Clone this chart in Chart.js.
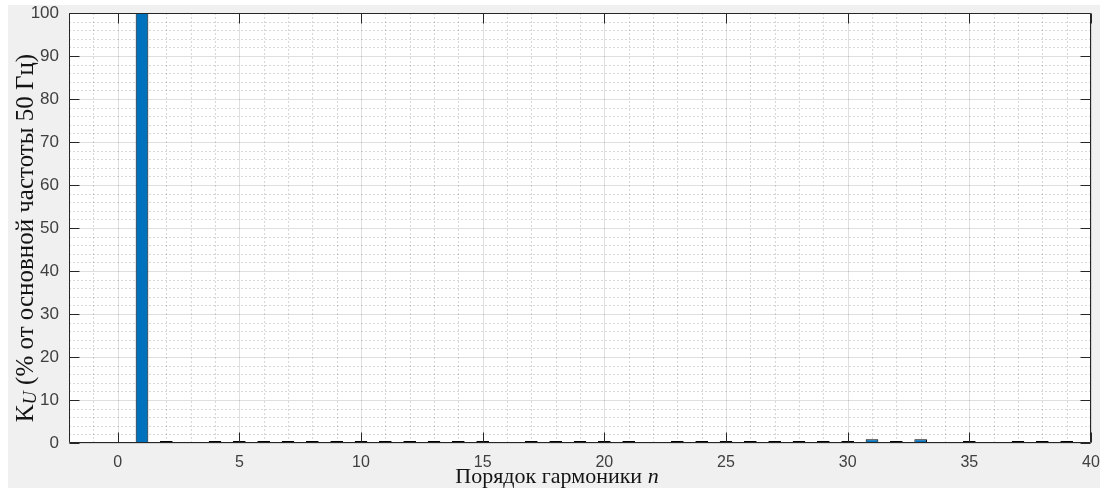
<!DOCTYPE html>
<html>
<head>
<meta charset="utf-8">
<script src="https://cdn.jsdelivr.net/npm/chart.js@4.4.1/dist/chart.umd.min.js"></script>
<style>
  html, body { margin: 0; padding: 0; background: #fff; overflow: hidden; }
  #wrap { width: 1105px; height: 488px; }
</style>
</head>
<body>
<div id="wrap"><canvas id="c" width="1105" height="488"></canvas></div>
<script>
// harmonic order n and Ku (% of the 50 Hz fundamental); null = no bar drawn
const harmonics = [1, 2, 3, 4, 5, 6, 7, 8, 9, 10,
                   11, 12, 13, 14, 15, 16, 17, 18, 19, 20,
                   21, 22, 23, 24, 25, 26, 27, 28, 29, 30,
                   31, 32, 33, 34, 35, 36, 37, 38, 39, 40];
const ku = [100, 0.45, null, 0.45, 0.45, 0.45, 0.45, 0.45, 0.45, 0.45,
            0.45, 0.45, 0.45, 0.45, 0.45, null, 0.45, 0.45, 0.45, 0.45,
            0.45, null, 0.45, 0.45, 0.45, 0.45, 0.45, 0.45, 0.45, 0.45,
            0.9, 0.45, 0.9, null, 0.45, null, 0.45, 0.45, 0.45, null];

const xTicks = [0, 5, 10, 15, 20, 25, 30, 35, 40];
const yTicks = [0, 10, 20, 30, 40, 50, 60, 70, 80, 90, 100];
const xRange = [-2, 40];
const yRange = [0, 100];

const xTitle = [['Порядок гармоники ', ''], ['n', 'italic']];
const yTitle = [['K', ''], ['U', 'italic sub'], [' (% от основной частоты 50 Гц)', '']];

const AXIS = '#262626';
const sans = '"Liberation Sans", Arial, Helvetica, sans-serif';
const serif = '"Liberation Serif", "Times New Roman", serif';

// gray figure, white axes, MATLAB-like major + dotted minor grid
const matlabAxes = {
  id: 'matlabAxes',
  beforeDraw(chart) {
    const { ctx, chartArea: a } = chart;
    const x = chart.scales.x, y = chart.scales.y;
    ctx.save();
    ctx.fillStyle = '#ffffff';
    ctx.fillRect(0, 0, chart.width, chart.height);
    ctx.fillStyle = '#f0f0f0';
    ctx.fillRect(8, 5, 1092, 483);
    ctx.fillStyle = '#ffffff';
    ctx.fillRect(a.left, a.top, a.right - a.left, a.bottom - a.top);

    ctx.lineWidth = 1;
    // minor
    ctx.strokeStyle = 'rgba(38,38,38,0.18)';
    ctx.setLineDash([2, 2]);
    ctx.beginPath();
    for (let v = xRange[0]; v <= xRange[1]; v += 1) {
      if (v % 5 === 0) continue;
      const px = Math.round(x.getPixelForValue(v)) + 0.5;
      ctx.moveTo(px, a.top); ctx.lineTo(px, a.bottom);
    }
    for (let v = yRange[0]; v <= yRange[1]; v += 2) {
      if (v % 10 === 0) continue;
      const py = Math.round(y.getPixelForValue(v)) + 0.5;
      ctx.moveTo(a.left, py); ctx.lineTo(a.right, py);
    }
    ctx.stroke();
    // major
    ctx.setLineDash([]);
    ctx.strokeStyle = 'rgba(38,38,38,0.15)';
    ctx.beginPath();
    xTicks.forEach(v => {
      const px = Math.round(x.getPixelForValue(v)) + 0.5;
      ctx.moveTo(px, a.top); ctx.lineTo(px, a.bottom);
    });
    yTicks.forEach(v => {
      const py = Math.round(y.getPixelForValue(v)) + 0.5;
      ctx.moveTo(a.left, py); ctx.lineTo(a.right, py);
    });
    ctx.stroke();
    ctx.restore();
  },
  afterDatasetsDraw(chart) {
    const { ctx, chartArea: a } = chart;
    const x = chart.scales.x, y = chart.scales.y;
    const L = Math.round(a.left) + 0.5, R = Math.round(a.right) - 0.5;
    const T = Math.round(a.top) + 0.5, B = Math.round(a.bottom) - 0.5;
    const len = 10;
    ctx.save();
    ctx.strokeStyle = AXIS;
    ctx.lineWidth = 1;
    ctx.beginPath();
    ctx.rect(L, T, R - L, B - T);
    xTicks.forEach(v => {
      const px = Math.round(x.getPixelForValue(v)) + 0.5;
      ctx.moveTo(px, B); ctx.lineTo(px, B - len);
      ctx.moveTo(px, T); ctx.lineTo(px, T + len);
    });
    yTicks.forEach(v => {
      const py = Math.round(y.getPixelForValue(v)) + 0.5;
      ctx.moveTo(L, py); ctx.lineTo(L + len, py);
      ctx.moveTo(R, py); ctx.lineTo(R - len, py);
    });
    ctx.stroke();
    ctx.restore();
  },
  afterDraw(chart) {
    const { ctx } = chart;
    const fontOf = (style, size) => (style.includes('italic') ? 'italic ' : '') +
      (style.includes('sub') ? Math.round(size * 0.72) : size) + 'px ' + serif;
    const widthOf = (parts, size) => parts.reduce((w, [t, s]) => {
      ctx.font = fontOf(s, size); return w + ctx.measureText(t).width;
    }, 0);
    const drawParts = (parts, size) => {
      let cx = -widthOf(parts, size) / 2;
      parts.forEach(([t, s]) => {
        ctx.font = fontOf(s, size);
        ctx.fillText(t, cx, s.includes('sub') ? 3 : 0);
        cx += ctx.measureText(t).width;
      });
    };
    ctx.save();
    ctx.fillStyle = '#141414';
    ctx.textBaseline = 'alphabetic';
    ctx.textAlign = 'left';
    // x title
    ctx.save();
    ctx.translate(557, 483);
    drawParts(xTitle, 22);
    ctx.restore();
    // y title
    ctx.save();
    ctx.translate(33, 238);
    ctx.rotate(-Math.PI / 2);
    drawParts(yTitle, 25);
    ctx.restore();
    ctx.restore();
  }
};

const points = harmonics
  .map((n, i) => ({ x: n, y: ku[i] }))
  .filter(p => p.y !== null);

new Chart(document.getElementById('c'), {
  type: 'bar',
  data: {
    datasets: [{
      data: points,
      backgroundColor: '#0072BD',
      borderColor: '#000000',
      borderWidth: 1,
      borderSkipped: false,
      barPercentage: 0.52,
      categoryPercentage: 1
    }]
  },
  options: {
    responsive: false,
    animation: false,
    devicePixelRatio: 1,
    layout: { padding: { left: 0, right: 14, top: 13, bottom: 0 } },
    plugins: { legend: { display: false }, tooltip: { enabled: false }, title: { display: false } },
    scales: {
      x: {
        type: 'linear',
        min: xRange[0],
        max: xRange[1],
        offset: false,
        afterBuildTicks: s => { s.ticks = xTicks.map(v => ({ value: v })); },
        afterFit: s => { s.height = 45; s.paddingLeft = 0; s.paddingRight = 0; },
        ticks: { font: { family: sans, size: 16 }, color: '#404040', padding: 10, maxRotation: 0, autoSkip: false },
        grid: { display: false, drawTicks: false, offset: false },
        border: { display: false }
      },
      y: {
        min: yRange[0],
        max: yRange[1],
        afterBuildTicks: s => { s.ticks = yTicks.map(v => ({ value: v })); },
        afterFit: s => { s.width = 69; s.paddingTop = 0; s.paddingBottom = 0; },
        ticks: { font: { family: sans, size: 17 }, color: '#404040', padding: 10 },
        grid: { display: false, drawTicks: false },
        border: { display: false }
      }
    }
  },
  plugins: [matlabAxes]
});
</script>
</body>
</html>
